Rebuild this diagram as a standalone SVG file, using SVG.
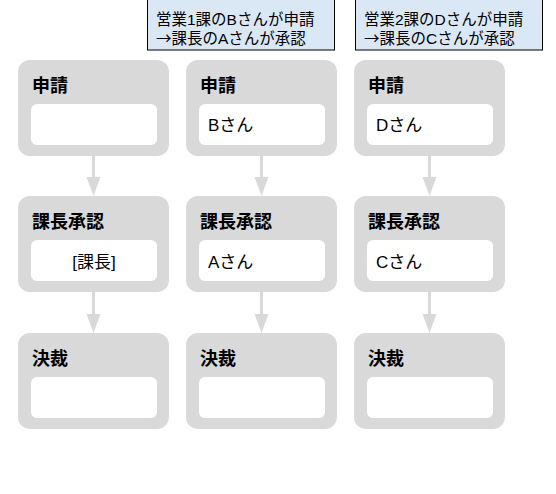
<svg xmlns="http://www.w3.org/2000/svg" width="556" height="494" viewBox="0 0 556 494">
<defs>
<style>
text{font-family:"Liberation Sans","Noto Sans CJK JP",sans-serif;fill:#000}
.cjk{font-family:"Noto Sans CJK JP",sans-serif}
.outer{fill:#d9d9d9}
.inner{fill:#fff}
.title{font-size:18px;font-weight:bold}
.val{font-size:17px}
.note rect{fill:#dae7f5;stroke:#000;stroke-width:1}
.note text{font-size:15.5px}
.conn line{stroke:#d9d9d9;stroke-width:3}
.conn polygon{fill:#d9d9d9}
</style>
</defs>
<rect width="556" height="494" fill="#fff"/>
<g id="note1" class="note">
<rect x="147.5" y="-1" width="187" height="51"/>
<text x="156" y="25">営業1課のBさんが申請</text>
<text x="156" y="44"><tspan class="cjk">→</tspan>課長のAさんが承認</text>
</g>
<g id="note2" class="note">
<rect x="355.5" y="-1" width="187" height="51"/>
<text x="364" y="25">営業2課のDさんが申請</text>
<text x="364" y="44"><tspan class="cjk">→</tspan>課長のCさんが承認</text>
</g>
<g id="connectors" class="conn">
<line x1="93.5" y1="156" x2="93.5" y2="180"/><polygon points="86.5,177 100.5,177 93.5,196"/>
<line x1="93.5" y1="292" x2="93.5" y2="317"/><polygon points="86.5,314 100.5,314 93.5,333"/>
<line x1="261.5" y1="156" x2="261.5" y2="180"/><polygon points="254.5,177 268.5,177 261.5,196"/>
<line x1="261.5" y1="292" x2="261.5" y2="317"/><polygon points="254.5,314 268.5,314 261.5,333"/>
<line x1="429.5" y1="156" x2="429.5" y2="180"/><polygon points="422.5,177 436.5,177 429.5,196"/>
<line x1="429.5" y1="292" x2="429.5" y2="317"/><polygon points="422.5,314 436.5,314 429.5,333"/>
</g>
<g id="c1-apply"><rect class="outer" x="18" y="60" width="151" height="96" rx="12"/><rect class="inner" x="31" y="104" width="126" height="41" rx="6"/><text class="title" x="32" y="92">申請</text></g>
<g id="c1-approve"><rect class="outer" x="18" y="196" width="151" height="96" rx="12"/><rect class="inner" x="31" y="240" width="126" height="41" rx="6"/><text class="title" x="32" y="228">課長承認</text><text class="val" x="94" y="268" text-anchor="middle">[課長]</text></g>
<g id="c1-decide"><rect class="outer" x="18" y="333" width="151" height="96" rx="12"/><rect class="inner" x="31" y="377" width="126" height="41" rx="6"/><text class="title" x="32" y="365">決裁</text></g>
<g id="c2-apply"><rect class="outer" x="186" y="60" width="151" height="96" rx="12"/><rect class="inner" x="199" y="104" width="126" height="41" rx="6"/><text class="title" x="200" y="92">申請</text><text class="val" x="208" y="131">Bさん</text></g>
<g id="c2-approve"><rect class="outer" x="186" y="196" width="151" height="96" rx="12"/><rect class="inner" x="199" y="240" width="126" height="41" rx="6"/><text class="title" x="200" y="228">課長承認</text><text class="val" x="208" y="268">Aさん</text></g>
<g id="c2-decide"><rect class="outer" x="186" y="333" width="151" height="96" rx="12"/><rect class="inner" x="199" y="377" width="126" height="41" rx="6"/><text class="title" x="200" y="365">決裁</text></g>
<g id="c3-apply"><rect class="outer" x="354" y="60" width="151" height="96" rx="12"/><rect class="inner" x="367" y="104" width="126" height="41" rx="6"/><text class="title" x="368" y="92">申請</text><text class="val" x="376" y="131">Dさん</text></g>
<g id="c3-approve"><rect class="outer" x="354" y="196" width="151" height="96" rx="12"/><rect class="inner" x="367" y="240" width="126" height="41" rx="6"/><text class="title" x="368" y="228">課長承認</text><text class="val" x="376" y="268">Cさん</text></g>
<g id="c3-decide"><rect class="outer" x="354" y="333" width="151" height="96" rx="12"/><rect class="inner" x="367" y="377" width="126" height="41" rx="6"/><text class="title" x="368" y="365">決裁</text></g>
</svg>
